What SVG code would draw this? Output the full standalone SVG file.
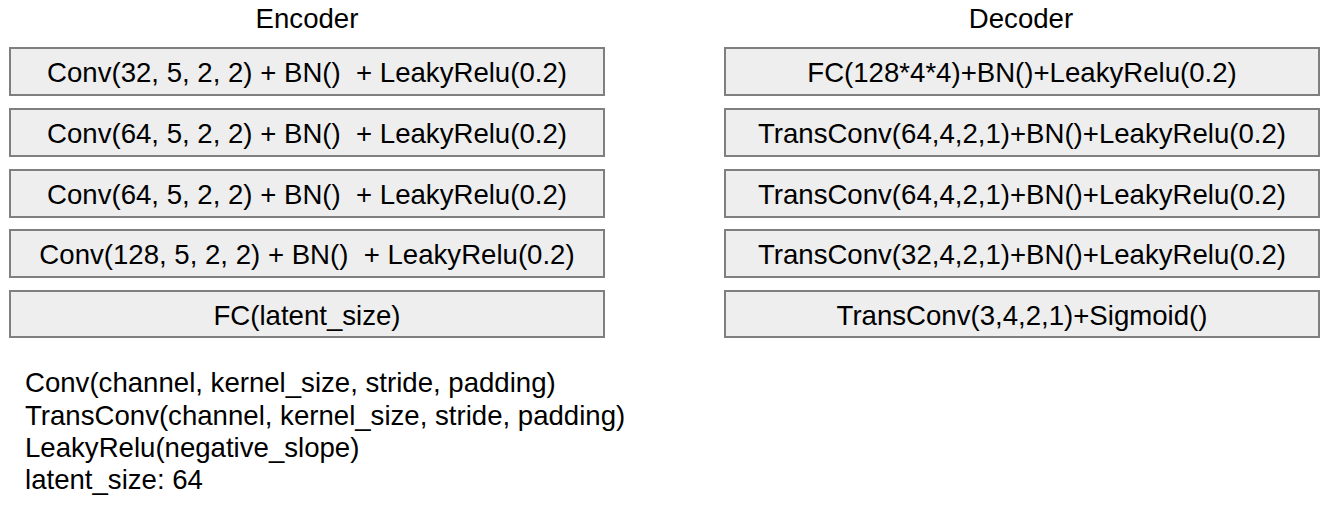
<svg xmlns="http://www.w3.org/2000/svg" width="1342" height="511" viewBox="0 0 1342 511">
<style>
text{font-family:"Liberation Sans",Arial,sans-serif;font-size:27.6px;fill:#000;white-space:pre}
.box{fill:#eeeeee;stroke:#7f7f7f;stroke-width:2}
.c{text-anchor:middle}
</style>
<rect width="1342" height="511" fill="#fff"/>
<text class="c" x="307" y="28">Encoder</text>
<text class="c" x="1021" y="28">Decoder</text>
<g id="enc1"><rect class="box" x="10" y="48" width="594" height="47"/><text class="c" x="307" y="82" xml:space="preserve">Conv(32, 5, 2, 2) + BN()  + LeakyRelu(0.2)</text></g>
<g id="enc2"><rect class="box" x="10" y="109" width="594" height="47"/><text class="c" x="307" y="143" xml:space="preserve">Conv(64, 5, 2, 2) + BN()  + LeakyRelu(0.2)</text></g>
<g id="enc3"><rect class="box" x="10" y="170" width="594" height="47"/><text class="c" x="307" y="204" xml:space="preserve">Conv(64, 5, 2, 2) + BN()  + LeakyRelu(0.2)</text></g>
<g id="enc4"><rect class="box" x="10" y="230" width="594" height="47"/><text class="c" x="307" y="264" xml:space="preserve">Conv(128, 5, 2, 2) + BN()  + LeakyRelu(0.2)</text></g>
<g id="enc5"><rect class="box" x="10" y="291" width="594" height="46"/><text class="c" x="307" y="325">FC(latent_size)</text></g>
<g id="dec1"><rect class="box" x="725" y="48" width="594" height="47"/><text class="c" x="1022" y="82">FC(128*4*4)+BN()+LeakyRelu(0.2)</text></g>
<g id="dec2"><rect class="box" x="725" y="109" width="594" height="47"/><text class="c" x="1022" y="143">TransConv(64,4,2,1)+BN()+LeakyRelu(0.2)</text></g>
<g id="dec3"><rect class="box" x="725" y="170" width="594" height="47"/><text class="c" x="1022" y="204">TransConv(64,4,2,1)+BN()+LeakyRelu(0.2)</text></g>
<g id="dec4"><rect class="box" x="725" y="230" width="594" height="47"/><text class="c" x="1022" y="264">TransConv(32,4,2,1)+BN()+LeakyRelu(0.2)</text></g>
<g id="dec5"><rect class="box" x="725" y="291" width="594" height="46"/><text class="c" x="1022" y="325">TransConv(3,4,2,1)+Sigmoid()</text></g>
<g id="connectors"></g>
<g id="legend">
<text x="25" y="392">Conv(channel, kernel_size, stride, padding)</text>
<text x="25" y="425">TransConv(channel, kernel_size, stride, padding)</text>
<text x="25" y="457">LeakyRelu(negative_slope)</text>
<text x="25" y="489">latent_size: 64</text>
</g>
</svg>
